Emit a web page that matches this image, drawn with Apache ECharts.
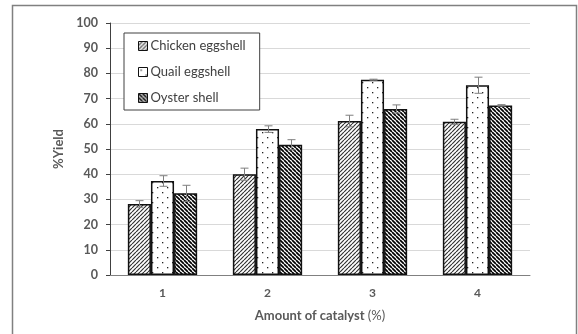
<!DOCTYPE html>
<html>
<head>
<meta charset="utf-8">
<script src="https://cdn.jsdelivr.net/npm/echarts@6/dist/echarts.min.js"></script>
<style>
  html, body { margin: 0; padding: 0; background: #fff; }
  #chart { width: 578px; height: 334px; }
</style>
</head>
<body>
<div id="chart"></div>
<script>
// Yield (%) for each catalyst loading, with standard deviations
const categories = ['1', '2', '3', '4'];
const seriesNames = ['Chicken eggshell', 'Quail eggshell', 'Oyster shell'];
const chickenYield = [28.2, 40.0, 61.1, 60.8];
const quailYield = [37.3, 57.9, 77.5, 75.3];
const oysterYield = [32.4, 51.7, 65.9, 67.3];
const chickenErr = [1.3, 2.4, 2.3, 1.0];
const quailErr = [2.1, 1.3, 0.2, 3.2];
const oysterErr = [3.2, 2.0, 1.6, 0.3];
const yTicks = [0, 10, 20, 30, 40, 50, 60, 70, 80, 90, 100];

const values = [chickenYield, quailYield, oysterYield];
const errors = [chickenErr, quailErr, oysterErr];

const TEXT = '#595959';
const FONT = 'Lato, "Open Sans", sans-serif';
const BAR_FRACTION = 0.22;

// Hatch fills drawn onto small tiles and repeated over the bars
function makeTile(w, h, draw) {
  const c = document.createElement('canvas');
  c.width = w; c.height = h;
  const ctx = c.getContext('2d');
  ctx.fillStyle = '#fff';
  ctx.fillRect(0, 0, w, h);
  draw(ctx, w, h);
  return c;
}
const forwardHatch = makeTile(4, 4, (ctx, w, h) => {
  ctx.strokeStyle = '#333';
  ctx.lineWidth = 1.2;
  ctx.beginPath();
  for (let k = -1; k <= 1; k++) {
    ctx.moveTo(k * w, h);
    ctx.lineTo(k * w + w, 0);
  }
  ctx.stroke();
});
const dotFill = makeTile(10, 10, (ctx) => {
  ctx.fillStyle = '#222';
  ctx.fillRect(2, 2, 1.3, 1.3);
  ctx.fillRect(7, 7, 1.3, 1.3);
});
const backHatch = makeTile(4, 4, (ctx, w, h) => {
  ctx.strokeStyle = '#000';
  ctx.lineWidth = 1.7;
  ctx.beginPath();
  for (let k = -1; k <= 1; k++) {
    ctx.moveTo(k * w, 0);
    ctx.lineTo(k * w + w, h);
  }
  ctx.stroke();
});
const fills = [forwardHatch, dotFill, backHatch];

const barSeries = seriesNames.map((name, i) => ({
  name: name,
  type: 'bar',
  data: values[i],
  barWidth: (BAR_FRACTION * 100) + '%',
  barGap: '0%',
  itemStyle: {
    color: { image: fills[i], repeat: 'repeat' },
    borderColor: '#111',
    borderWidth: 1.5
  },
  emphasis: { disabled: true }
}));

const errorSeries = seriesNames.map((name, i) => ({
  type: 'custom',
  name: name + ' error',
  z: 5,
  silent: true,
  data: values[i].map((v, j) => [j, v, errors[i][j]]),
  renderItem: function (params, api) {
    const cat = api.value(0);
    const v = api.value(1);
    const e = api.value(2);
    const band = api.size([1, 0])[0];
    const dx = (i - 1) * band * BAR_FRACTION;
    const hi = api.coord([cat, v + e]);
    const lo = api.coord([cat, v - e]);
    const x = Math.round(hi[0] + dx) + 0.5;
    const cap = 4;
    const st = { stroke: '#7f7f7f', lineWidth: 1 };
    return {
      type: 'group',
      children: [
        { type: 'line', shape: { x1: x, y1: hi[1], x2: x, y2: lo[1] }, style: st },
        { type: 'line', shape: { x1: x - cap, y1: hi[1], x2: x + cap, y2: hi[1] }, style: st },
        { type: 'line', shape: { x1: x - cap, y1: lo[1], x2: x + cap, y2: lo[1] }, style: st }
      ]
    };
  }
}));

const chart = echarts.init(document.getElementById('chart'), null, { renderer: 'canvas' });
chart.setOption({
  animation: false,
  backgroundColor: '#fff',
  grid: { left: 110, right: 48, top: 23, bottom: 59 },
  graphic: [{
    type: 'rect',
    shape: { x: 12.5, y: 5.5, width: 564, height: 340 },
    style: { fill: 'none', stroke: '#808080', lineWidth: 1.5 },
    silent: true,
    z: -1
  }],
  legend: {
    data: seriesNames,
    orient: 'vertical',
    left: 124,
    top: 33,
    icon: 'rect',
    padding: [6, 14, 5, 14],
    itemGap: 12,
    itemWidth: 9,
    itemHeight: 9,
    itemStyle: { borderColor: '#111', borderWidth: 1 },
    backgroundColor: '#fff',
    borderColor: '#404040',
    borderWidth: 1,
    borderRadius: 0,
    selectedMode: false,
    textStyle: { color: '#404040', fontFamily: FONT, fontSize: 13, lineHeight: 14, padding: [0, 0, 0, -2] }
  },
  xAxis: {
    type: 'category',
    data: categories,
    name: '{b|Amount of catalyst} {n|(%)}',
    nameLocation: 'middle',
    nameGap: 34,
    nameTextStyle: {
      rich: {
        b: { fontFamily: FONT, fontSize: 13, fontWeight: 'bold', color: TEXT },
        n: { fontFamily: FONT, fontSize: 13, color: TEXT }
      }
    },
    axisLine: { lineStyle: { color: '#808080', width: 1 } },
    axisTick: { show: false },
    axisLabel: { color: TEXT, fontFamily: FONT, fontSize: 12, fontWeight: 'bold', margin: 12 }
  },
  yAxis: {
    type: 'value',
    min: yTicks[0],
    max: yTicks[yTicks.length - 1],
    interval: yTicks[1] - yTicks[0],
    name: '%Yield',
    nameLocation: 'middle',
    nameRotate: 90,
    nameGap: 34,
    nameTextStyle: { color: TEXT, fontFamily: FONT, fontSize: 13, fontWeight: 'bold' },
    axisLine: { show: true, lineStyle: { color: '#404040', width: 1 } },
    axisTick: { show: true, length: 4, lineStyle: { color: '#404040' } },
    axisLabel: { color: TEXT, fontFamily: FONT, fontSize: 12.5, fontWeight: 'bold', margin: 12 },
    splitLine: { lineStyle: { color: '#d9d9d9', width: 1 } }
  },
  series: barSeries.concat(errorSeries)
});
</script>
</body>
</html>
